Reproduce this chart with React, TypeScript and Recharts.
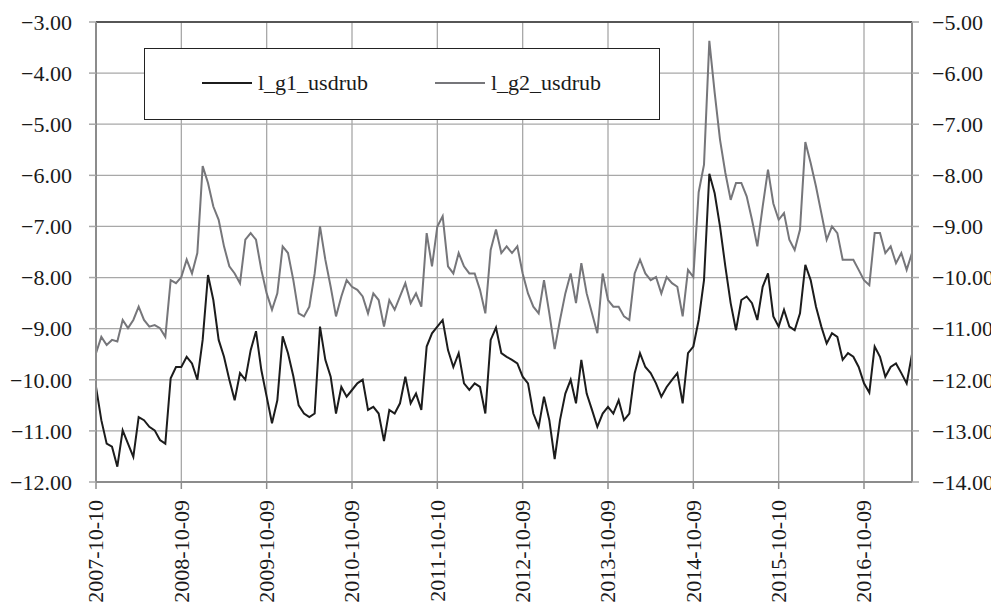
import React from 'react';
import { LineChart, Line, XAxis, YAxis, CartesianGrid, Legend, ReferenceLine } from 'recharts';

const dateLabels = [
  '2007-10-10', '2008-10-09', '2009-10-09', '2010-10-09', '2011-10-10',
  '2012-10-09', '2013-10-09', '2014-10-09', '2015-10-10', '2016-10-09',
];
const xTickIndex = [0, 16, 32, 48, 64, 80, 96, 112, 128, 144];
const leftTicks = [-12, -11, -10, -9, -8, -7, -6, -5, -4, -3];
const rightTicks = [-14, -13, -12, -11, -10, -9, -8, -7, -6, -5];

// l_g1_usdrub (left axis)
const g1 = [
  -10.14, -10.79, -11.25, -11.31, -11.7, -10.99, -11.25, -11.51, -10.73, -10.79,
  -10.92, -10.99, -11.18, -11.25, -9.97, -9.75, -9.75, -9.55, -9.68, -10.0,
  -9.22, -7.95, -8.44, -9.22, -9.55, -10.0, -10.4, -9.87, -10.0, -9.42,
  -9.05, -9.81, -10.33, -10.85, -10.4, -9.15, -9.48, -9.93, -10.5, -10.66,
  -10.73, -10.66, -8.96, -9.61, -9.94, -10.66, -10.14, -10.33, -10.2, -10.07,
  -10.0, -10.59, -10.53, -10.66, -11.2, -10.59, -10.66, -10.46, -9.94, -10.46,
  -10.27, -10.59, -9.35, -9.09, -8.96, -8.83, -9.42, -9.75, -9.48, -10.07,
  -10.2, -10.07, -10.14, -10.66, -9.22, -8.98, -9.48, -9.55, -9.61, -9.68,
  -9.94, -10.07, -10.66, -10.92, -10.33, -10.79, -11.55, -10.79, -10.27, -10.0,
  -10.46, -9.61, -10.27, -10.59, -10.92, -10.66, -10.53, -10.66, -10.4, -10.79,
  -10.66, -9.87, -9.48, -9.75, -9.87, -10.07, -10.33, -10.14, -10.0, -9.87,
  -10.46, -9.48, -9.35, -8.83, -8.05, -5.97, -6.35, -7.0, -7.78, -8.5,
  -9.03, -8.44, -8.37, -8.5, -8.83, -8.18, -7.92, -8.76, -8.96, -8.63,
  -8.96, -9.03, -8.7, -7.75, -8.05, -8.57, -8.96, -9.29, -9.09, -9.16,
  -9.61, -9.48, -9.55, -9.75, -10.07, -10.25, -9.35, -9.55, -9.94, -9.75,
  -9.68, -9.87, -10.07, -9.5,
];

// l_g2_usdrub (right axis)
const g2 = [
  -11.48, -11.16, -11.32, -11.22, -11.25, -10.83, -10.99, -10.83, -10.57, -10.83,
  -10.96, -10.93, -10.99, -11.16, -10.05, -10.11, -9.99, -9.65, -9.92, -9.52,
  -7.82, -8.15, -8.61, -8.87, -9.39, -9.78, -9.92, -10.11, -9.26, -9.13,
  -9.26, -9.85, -10.31, -10.63, -10.31, -9.39, -9.52, -10.05, -10.7, -10.76,
  -10.57, -9.92, -9.0, -9.65, -10.18, -10.76, -10.37, -10.05, -10.18, -10.24,
  -10.37, -10.7, -10.31, -10.44, -10.96, -10.44, -10.63, -10.37, -10.11, -10.5,
  -10.31, -10.57, -9.13, -9.78, -9.0, -8.8, -9.78, -9.92, -9.52, -9.78,
  -9.92, -9.92, -10.24, -10.7, -9.46, -9.06, -9.52, -9.39, -9.52, -9.39,
  -9.92, -10.31, -10.57, -10.7, -10.05, -10.7, -11.4, -10.83, -10.31, -9.92,
  -10.5, -9.72, -10.31, -10.7, -11.09, -9.92, -10.44, -10.57, -10.57, -10.76,
  -10.83, -9.92, -9.65, -9.92, -10.05, -9.99, -10.31, -9.99, -10.11, -10.18,
  -10.76, -9.85, -9.99, -8.33, -7.79, -5.37, -6.38, -7.3, -7.95, -8.48,
  -8.15, -8.15, -8.41, -8.87, -9.39, -8.61, -7.89, -8.55, -8.87, -8.74,
  -9.26, -9.46, -9.06, -7.35, -7.76, -8.22, -8.74, -9.26, -9.0, -9.13,
  -9.65, -9.65, -9.65, -9.85, -10.05, -10.15, -9.13, -9.13, -9.52, -9.39,
  -9.72, -9.52, -9.85, -9.52,
];

const data = g1.map((v, i) => ({ i, g1: v, g2: g2[i] }));

const FONT = 'Liberation Serif';
const fmt = (v: number) => (v < 0 ? '\u2212' : '') + Math.abs(v).toFixed(2);

const XTick = (props: any) => {
  const { x, y, payload } = props;
  const k = xTickIndex.indexOf(payload.value);
  return (
    <text
      x={x}
      y={y}
      transform={`rotate(-90 ${x} ${y})`}
      textAnchor="end"
      dy="0.33em"
      fontFamily={FONT}
      fontSize={22}
      fill="#1a1a1a"
    >
      {dateLabels[k]}
    </text>
  );
};

const LegendBox = () => (
  <div
    style={{
      width: 516,
      height: 72,
      border: '1.5px solid #222',
      background: '#fff',
      boxSizing: 'border-box',
    }}
  >
    <svg width={513} height={69} style={{ display: 'block' }}>
      <line x1={57} x2={107} y1={34} y2={34} stroke="#1c1c1c" strokeWidth={2} />
      <text x={113} y={34} dy="0.33em" fontFamily={FONT} fontSize={22} fill="#1a1a1a">
        l_g1_usdrub
      </text>
      <line x1={290} x2={340} y1={34} y2={34} stroke="#76767a" strokeWidth={2} />
      <text x={346} y={34} dy="0.33em" fontFamily={FONT} fontSize={22} fill="#1a1a1a">
        l_g2_usdrub
      </text>
    </svg>
  </div>
);

export default function App() {
  return (
    <div style={{ width: 991, height: 602, background: '#fff', fontFamily: FONT }}>
      <LineChart
        width={991}
        height={602}
        data={data}
        margin={{ top: 14, right: 0, bottom: 0, left: 0 }}
        style={{ fontFamily: FONT }}
      >
        <CartesianGrid
          yAxisId="left"
          stroke="#a8a8a8"
          strokeWidth={1.3}
          horizontalValues={leftTicks}
          verticalValues={xTickIndex}
        />
        <XAxis
          dataKey="i"
          type="number"
          domain={[0, 153]}
          ticks={xTickIndex}
          interval={0}
          allowDataOverflow
          tick={<XTick />}
          tickSize={7}
          tickMargin={11}
          height={128}
          axisLine={{ stroke: '#8c8c8c', strokeWidth: 2 }}
          tickLine={{ stroke: '#8c8c8c', strokeWidth: 1.5 }}
        />
        <YAxis
          yAxisId="left"
          orientation="left"
          domain={[-12, -3]}
          ticks={leftTicks}
          interval={0}
          allowDataOverflow
          width={88}
          tickFormatter={fmt}
          tickSize={7}
          tickMargin={17}
          tick={{ fontFamily: FONT, fontSize: 22, fill: '#1a1a1a' }}
          axisLine={{ stroke: '#8c8c8c', strokeWidth: 2 }}
          tickLine={{ stroke: '#a8a8a8', strokeWidth: 1.5 }}
        />
        <YAxis
          yAxisId="right"
          orientation="right"
          domain={[-14, -5]}
          ticks={rightTicks}
          interval={0}
          allowDataOverflow
          width={87}
          tickFormatter={fmt}
          tickSize={7}
          tickMargin={13}
          tick={{ fontFamily: FONT, fontSize: 22, fill: '#1a1a1a' }}
          axisLine={{ stroke: '#8c8c8c', strokeWidth: 2 }}
          tickLine={{ stroke: '#a8a8a8', strokeWidth: 1.5 }}
        />
        <ReferenceLine yAxisId="left" y={-3} stroke="#333" strokeWidth={1.5} />
        <Line
          yAxisId="right"
          type="linear"
          dataKey="g2"
          stroke="#76767a"
          strokeWidth={2}
          dot={false}
          isAnimationActive={false}
        />
        <Line
          yAxisId="left"
          type="linear"
          dataKey="g1"
          stroke="#1c1c1c"
          strokeWidth={2}
          dot={false}
          isAnimationActive={false}
        />
        <Legend
          layout="horizontal"
          verticalAlign="middle"
          align="center"
          wrapperStyle={{ left: 136, top: 40, width: 516, height: 72 }}
          content={<LegendBox />}
        />
      </LineChart>
    </div>
  );
}
